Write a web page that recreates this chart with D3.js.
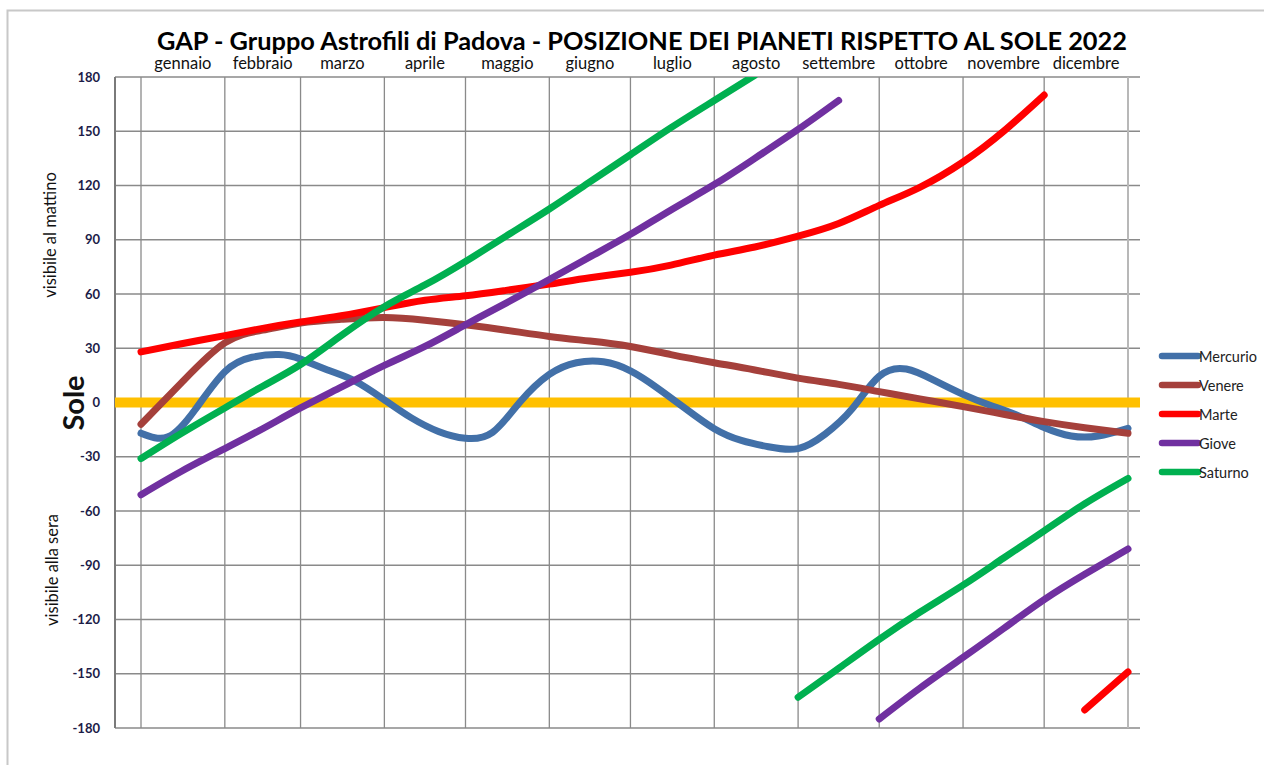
<!DOCTYPE html>
<html>
<head>
<meta charset="utf-8">
<script src="https://cdn.jsdelivr.net/npm/d3@7"></script>
<style>
  body { margin: 0; background: #fff; }
  svg text { font-family: Lato, "Open Sans", sans-serif; }
</style>
</head>
<body>
<svg id="chart" width="1264" height="765"></svg>
<script>
const title = "GAP - Gruppo Astrofili di Padova - POSIZIONE DEI PIANETI RISPETTO AL SOLE 2022";
const monthNames = ["gennaio", "febbraio", "marzo", "aprile", "maggio", "giugno",
                    "luglio", "agosto", "settembre", "ottobre", "novembre", "dicembre"];
const yTicks = [180, 150, 120, 90, 60, 30, 0, -30, -60, -90, -120, -150, -180];

// date ogni ~10 giorni (solo Mercurio, che cambia in fretta)
const mercurioDates = ["2022-01-01","2022-01-11","2022-01-21","2022-02-01","2022-02-11","2022-02-21",
  "2022-03-01","2022-03-11","2022-03-21","2022-04-01","2022-04-11","2022-04-21",
  "2022-05-01","2022-05-11","2022-05-21","2022-06-01","2022-06-11","2022-06-21",
  "2022-07-01","2022-07-11","2022-07-21","2022-08-01","2022-08-11","2022-08-21",
  "2022-09-01","2022-09-11","2022-09-21","2022-10-01","2022-10-11","2022-10-21",
  "2022-11-01","2022-11-11","2022-11-21","2022-12-01","2022-12-11","2022-12-21","2023-01-01"];
const mercurio = [-17, -19, -4, 17, 25, 26.5, 24, 18, 12, 1.5, -8.5, -16,
  -19.8, -16.5, 0, 15.5, 22, 22.5, 17.5, 8, -3, -14.5, -21, -24.5,
  -25.5, -17.5, -3.5, 14.5, 18.5, 12.5, 4.5, -1.5, -7, -13.8, -18.5, -18.5, -14.3];

// date quindicinali per gli altri pianeti
const dates = ["2022-01-01","2022-01-16","2022-02-01","2022-02-15","2022-03-01","2022-03-16",
  "2022-04-01","2022-04-16","2022-05-01","2022-05-16","2022-06-01","2022-06-16",
  "2022-07-01","2022-07-16","2022-08-01","2022-08-16","2022-09-01","2022-09-16",
  "2022-10-01","2022-10-16","2022-11-01","2022-11-16","2022-12-01","2022-12-16","2023-01-01"];
const venere  = [-12, 11, 33, 40, 44, 46, 47, 45.5, 43, 40, 36.5, 34, 31, 26.5, 22, 18,
  13.5, 10, 6, 2, -2.3, -6.5, -10.6, -14, -17];
const marte   = [28, 32.5, 37, 41, 44.5, 48, 52.5, 56.5, 59, 62, 65.5, 69, 72, 76, 81.5, 86,
  92, 99, 109, 119, 133, 150, 170, -170, -149];
const giove   = [-51, -38, -25.5, -14.5, -3, 8.5, 20.5, 31, 43, 55, 68, 80.5, 93, 106.5, 120.5, 135,
  151, 167, -175, -158, -141, -125, -109, -95, -81];
const saturno = [-31, -17, -3, 9, 21, 37, 53, 65, 78, 92, 107, 122, 137, 152, 167, 181,
  -163, -147, -131, -116, -101, -86, -71, -56, -42];

const seriesNames  = ["Mercurio", "Venere", "Marte", "Giove", "Saturno"];
const seriesColors = ["#4270a8", "#a5403b", "#ff0000", "#7030a0", "#00b050"];

const parse = d3.utcParse("%Y-%m-%d");
const series = [
  { values: mercurio, dates: mercurioDates },
  { values: venere, dates: dates },
  { values: marte, dates: dates },
  { values: giove, dates: dates },
  { values: saturno, dates: dates },
].map((s, i) => ({
  name: seriesNames[i],
  color: seriesColors[i],
  points: s.values.map((v, j) => ({ date: parse(s.dates[j]), value: v }))
}));

// spezza la linea dove l'angolo passa da +180 a -180
const splitWrap = (points) => {
  const segs = [[points[0]]];
  for (let i = 1; i < points.length; i++) {
    if (Math.abs(points[i].value - points[i - 1].value) > 180) segs.push([]);
    segs[segs.length - 1].push(points[i]);
  }
  return segs;
};

const plot = { left: 115, right: 1140, top: 77, bottom: 728 };
const yearStart = parse("2022-01-01"), yearEnd = parse("2023-01-01");

const x = d3.scaleUtc().domain([yearStart, yearEnd]).range([141, 1128]);
const y = d3.scaleLinear().domain([-180, 180]).range([plot.bottom, plot.top]);

const svg = d3.select("#chart");

// cornice esterna
svg.append("rect")
  .attr("x", 7.5).attr("y", 10.5)
  .attr("width", 1300).attr("height", 800)
  .attr("fill", "none").attr("stroke", "#c8c8c8").attr("stroke-width", 2);

// griglia orizzontale
svg.append("g")
  .selectAll("line")
  .data(yTicks)
  .enter()
  .append("line")
    .attr("x1", plot.left).attr("x2", plot.right)
    .attr("y1", d => y(d)).attr("y2", d => y(d))
    .attr("stroke", "#8a8a8a").attr("stroke-width", 1.3);

// griglia verticale ai cambi di mese
const monthStarts = d3.utcMonth.range(yearStart, d3.utcMonth.offset(yearEnd, 1));
svg.append("g")
  .selectAll("line")
  .data(monthStarts)
  .enter()
  .append("line")
    .attr("x1", d => x(d)).attr("x2", d => x(d))
    .attr("y1", plot.top).attr("y2", plot.bottom)
    .attr("stroke", (d, i) => i === monthStarts.length - 1 ? "#b8b8b8" : "#8a8a8a")
    .attr("stroke-width", (d, i) => i === monthStarts.length - 1 ? 2 : 1.3);

// asse sinistro
svg.append("line")
  .attr("x1", plot.left).attr("x2", plot.left)
  .attr("y1", plot.top).attr("y2", plot.bottom)
  .attr("stroke", "#7a7a7a").attr("stroke-width", 2);

const yAxis = svg.append("g")
  .attr("transform", `translate(${plot.left},0)`)
  .call(d3.axisLeft(y).tickValues(yTicks).tickFormat(d => String(d)).tickSize(0).tickPadding(15));
yAxis.select(".domain").remove();
yAxis.selectAll("text")
  .attr("font-family", "Lato, sans-serif")
  .attr("font-weight", "bold")
  .attr("font-size", 13)
  .attr("fill", "#1c1c48");

// nomi dei mesi
svg.append("g")
  .selectAll("text")
  .data(monthStarts.slice(0, 12))
  .enter()
  .append("text")
    .attr("x", (d, i) => (x(d) + x(monthStarts[i + 1])) / 2)
    .attr("y", 69)
    .attr("text-anchor", "middle")
    .attr("font-size", 16.5)
    .attr("fill", "#111")
    .text((d, i) => monthNames[i]);

// titolo
svg.append("text")
  .attr("x", 642).attr("y", 50)
  .attr("text-anchor", "middle")
  .attr("font-size", 25)
  .attr("font-weight", "bold")
  .attr("fill", "#000")
  .attr("textLength", 970)
  .attr("lengthAdjust", "spacingAndGlyphs")
  .text(title);

// etichette verticali
const vlabel = (txt, cx, cy, size, weight) => {
  svg.append("text")
    .attr("transform", `translate(${cx},${cy}) rotate(-90)`)
    .attr("text-anchor", "middle")
    .attr("dominant-baseline", "central")
    .attr("font-size", size)
    .attr("font-weight", weight)
    .attr("fill", "#111")
    .text(txt);
};
vlabel("visibile al mattino", 50, 235, 16.5, "normal");
vlabel("visibile alla sera", 52, 570, 16.5, "normal");
vlabel("Sole", 72, 403, 29, "bold");

// linea del Sole
svg.append("line")
  .attr("x1", plot.left).attr("x2", plot.right)
  .attr("y1", y(0)).attr("y2", y(0))
  .attr("stroke", "#ffc000").attr("stroke-width", 10);

svg.append("clipPath").attr("id", "plot-clip")
  .append("rect")
    .attr("x", plot.left).attr("y", plot.top)
    .attr("width", plot.right - plot.left).attr("height", plot.bottom - plot.top);

const line = d3.line()
  .x(d => x(d.date))
  .y(d => y(d.value))
  .curve(d3.curveNatural);

const lines = svg.append("g").attr("clip-path", "url(#plot-clip)");
series.forEach(s => {
  lines.append("g")
    .selectAll("path")
    .data(splitWrap(s.points))
    .enter()
    .append("path")
      .attr("d", line)
      .attr("fill", "none")
      .attr("stroke", s.color)
      .attr("stroke-width", 7)
      .attr("stroke-linecap", "round")
      .attr("stroke-linejoin", "round");
});

// legenda
const legend = svg.append("g")
  .selectAll("g")
  .data(series)
  .enter()
  .append("g")
    .attr("transform", (d, i) => `translate(1162,${356 + i * 29})`);
legend.append("line")
  .attr("x1", 0).attr("x2", 36)
  .attr("stroke", d => d.color)
  .attr("stroke-width", 6.5)
  .attr("stroke-linecap", "round");
legend.append("text")
  .attr("x", 37).attr("y", 0)
  .attr("dominant-baseline", "central")
  .attr("font-size", 14.5)
  .attr("fill", "#222")
  .text(d => d.name);
</script>
</body>
</html>
